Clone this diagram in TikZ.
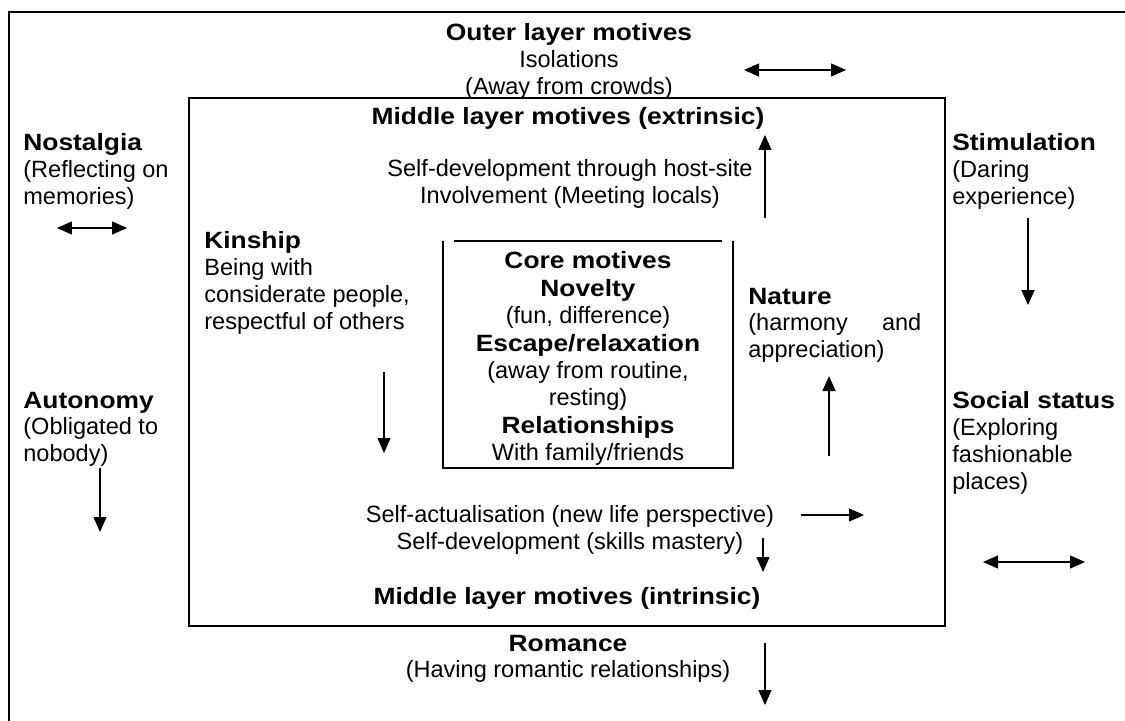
\documentclass[tikz,border=0pt]{standalone}
\usepackage{fontspec}
\setmainfont{Liberation Sans}[BoldFeatures={FakeStretch=1.12}]
\usetikzlibrary{arrows.meta,positioning}
\tikzset{
  txt/.style={inner sep=0pt,font=\fontsize{13.4}{15.3}\selectfont},
  motive/.style={txt,align=left,anchor=north west},
  layer/.style={txt,align=center,anchor=north},
  heading/.style={txt,font=\fontsize{13.4}{15.3}\selectfont\bfseries},
  coretxt/.style={inner sep=0pt,align=center,anchor=north,font=\fontsize{13.4}{15.6}\selectfont},
  frameline/.style={line width=1.1pt},
  boxline/.style={line width=1.6pt},
  corebox/.style={line width=1.1pt},
  push/.style={-{Triangle[length=3mm,width=2.6mm]},line width=0.7pt},
  swing/.style={{Triangle[length=3mm,width=2.6mm]}-{Triangle[length=3mm,width=2.6mm]},line width=0.7pt}
}
\begin{document}
\begin{tikzpicture}[x=0.02cm,y=-0.02cm]
  \useasboundingbox (0,0) rectangle (1125,720);
  \clip (0,0) rectangle (1125,720);
  \fill[white] (0,0) rectangle (1125,720);

  % layers
  \draw[frameline] (9,760) -- (9,12) -- (1160,12);
  \draw[boxline] (189,98) rectangle (945,626);
  \draw[corebox] (454,241) -- (722,241);
  \draw[corebox] (443,241) -- (443,468) -- (733,468) -- (733,241);

  % outer layer
  \node[layer] (outer) at (569,23.5) {\textbf{Outer layer motives}\\Isolations\\(Away from crowds)};
  \node[motive] (nostalgia) at (23,133.5) {\textbf{Nostalgia}\\(Reflecting on\\memories)};
  \node[motive] (autonomy) at (23,391.5) {\textbf{Autonomy}\\(Obligated to\\nobody)};
  \node[motive] (stimulation) at (952,133.5) {\textbf{Stimulation}\\(Daring\\experience)};
  \node[motive] (status) at (952,391.5) {\textbf{Social status}\\(Exploring\\fashionable\\places)};
  \node[layer] (romance) at (568,634.5) {\textbf{Romance}\\(Having romantic relationships)};

  % middle layer
  \node[heading] (extrinsic) at (568,118) {Middle layer motives (extrinsic)};
  \node[layer] (hostsite) at (570,159.5) {Self-development through host-site\\Involvement (Meeting locals)};
  \node[motive] (kinship) at (204,231.5) {\textbf{Kinship}\\Being with\\considerate people,\\respectful of others};
  \node[motive] (nature) at (748,287.5) {\textbf{Nature}\\\makebox[3.46cm][l]{(harmony\hfill and}\\appreciation)};
  \node[layer] (actual) at (570,505.5) {Self-actualisation (new life perspective)\\Self-development (skills mastery)};
  \node[heading] (intrinsic) at (567,598) {Middle layer motives (intrinsic)};

  % core
  \node[coretxt] (core) at (588,251.5) {\textbf{Core motives}\\\textbf{Novelty}\\(fun, difference)\\\textbf{Escape/relaxation}\\(away from routine,\\resting)\\\textbf{Relationships}\\With family/friends};

  % arrow ends
  \coordinate (isoL) at (744,70);   \coordinate (isoR) at (846,70);
  \coordinate (nosL) at (57,228);   \coordinate (nosR) at (127,228);
  \coordinate (autT) at (100,468);  \coordinate (autB) at (100,532);
  \coordinate (stiT) at (1028,218); \coordinate (stiB) at (1028,305);
  \coordinate (socL) at (983,562);  \coordinate (socR) at (1085,562);
  \coordinate (hosB) at (765,218);  \coordinate (hosT) at (765,135);
  \coordinate (kinT) at (384,372);  \coordinate (kinB) at (384,453);
  \coordinate (natB) at (829,456);  \coordinate (natT) at (829,376);
  \coordinate (actL) at (801,515);  \coordinate (actR) at (864,515);
  \coordinate (devT) at (763,538);  \coordinate (devB) at (763,572);
  \coordinate (romT) at (765,643);  \coordinate (romB) at (765,705);

  \draw[swing] (isoL) -- (isoR);
  \draw[swing] (nosL) -- (nosR);
  \draw[push] (autT) -- (autB);
  \draw[push] (stiT) -- (stiB);
  \draw[swing] (socL) -- (socR);
  \draw[push] (hosB) -- (hosT);
  \draw[push] (kinT) -- (kinB);
  \draw[push] (natB) -- (natT);
  \draw[push] (actL) -- (actR);
  \draw[push] (devT) -- (devB);
  \draw[push] (romT) -- (romB);
\end{tikzpicture}
\end{document}
